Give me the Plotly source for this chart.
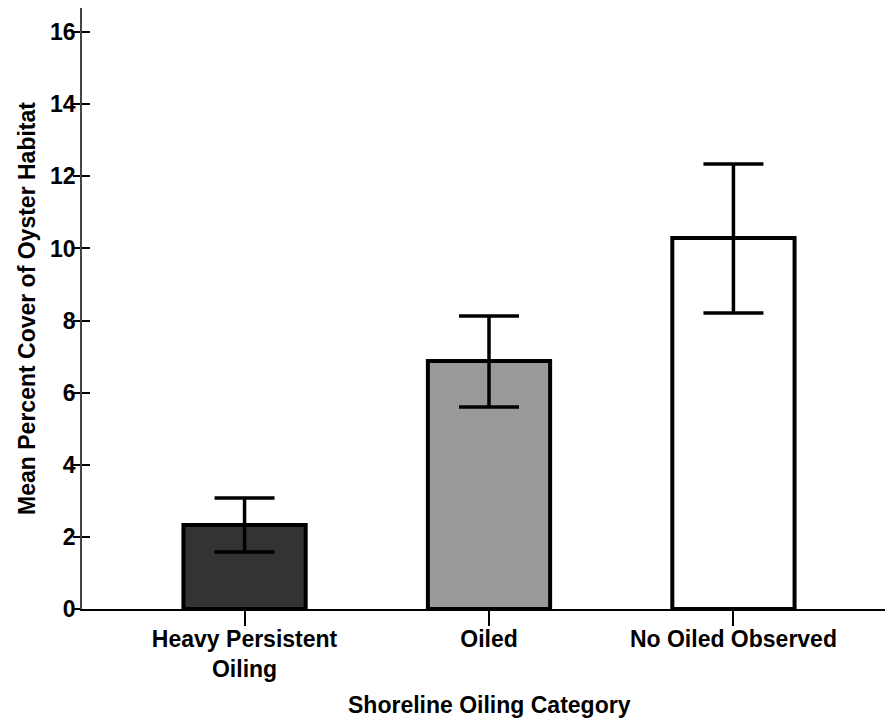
import plotly.graph_objects as go

# data
categories = ["Heavy Persistent<br>Oiling", "Oiled", "No Oiled Observed"]
mean_cover = [2.33, 6.88, 10.29]
err_upper = [0.75, 1.25, 2.05]
err_lower = [0.75, 1.28, 2.08]
bar_colors = ["#333333", "#999999", "#ffffff"]
y_ticks = [0, 2, 4, 6, 8, 10, 12, 14, 16]

family = "Liberation Sans, Arial, sans-serif"
bold = dict(family=family, size=23, color="black", weight="bold")

fig = go.Figure()

fig.add_trace(
    go.Bar(
        x=categories,
        y=mean_cover,
        width=0.5,
        marker=dict(color=bar_colors, line=dict(color="black", width=4)),
        error_y=dict(
            type="data",
            symmetric=False,
            array=err_upper,
            arrayminus=err_lower,
            color="black",
            thickness=3.5,
            width=30,
        ),
        showlegend=False,
        hoverinfo="skip",
    )
)

# invisible trace so the second y axis (inner half of the crossing ticks) is drawn
fig.add_trace(
    go.Scatter(
        x=categories,
        y=mean_cover,
        yaxis="y2",
        mode="markers",
        marker=dict(opacity=0),
        showlegend=False,
        hoverinfo="skip",
    )
)

fig.add_annotation(
    text="Shoreline Oiling Category",
    xref="x",
    yref="paper",
    x=1,
    y=-0.16,
    yanchor="middle",
    showarrow=False,
    font=bold,
)

fig.update_layout(
    width=887,
    height=719,
    margin=dict(l=82, r=2, t=8, b=110),
    plot_bgcolor="white",
    paper_bgcolor="white",
    font=dict(family=family, size=23, color="black"),
    xaxis=dict(
        range=[-0.665, 2.62],
        automargin=False,
        showline=True,
        linecolor="black",
        linewidth=1.5,
        ticks="outside",
        ticklen=15,
        tickwidth=1.5,
        tickcolor="black",
        showgrid=False,
        zeroline=False,
        tickfont=bold,
        ticklabelstandoff=-6,
    ),
    yaxis=dict(
        range=[0, 16.67],
        automargin=False,
        tickvals=y_ticks,
        showline=True,
        linecolor="#444444",
        linewidth=1.5,
        ticks="outside",
        ticklen=7,
        tickwidth=1.5,
        tickcolor="black",
        showgrid=False,
        zeroline=False,
        tickfont=bold,
        ticklabelstandoff=-7,
        title=dict(text="Mean Percent Cover of Oyster Habitat", font=bold, standoff=8),
    ),
    yaxis2=dict(
        overlaying="y",
        matches="y",
        anchor="x",
        side="left",
        automargin=False,
        tickvals=y_ticks,
        ticks="inside",
        ticklen=8,
        tickwidth=1.5,
        tickcolor="black",
        showticklabels=False,
        showgrid=False,
        zeroline=False,
        showline=False,
    ),
)

fig.write_html(
    "out.html",
    config={"displayModeBar": False},
    post_script="document.body.style.margin = '0';",
)
